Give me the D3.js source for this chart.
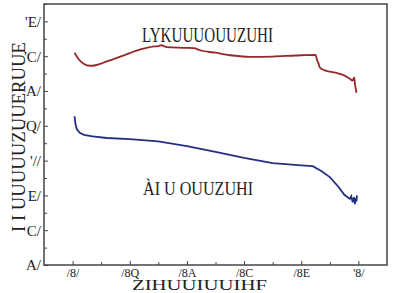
<!DOCTYPE html>
<html>
<head>
<meta charset="utf-8">
<script src="https://cdn.jsdelivr.net/npm/d3@7"></script>
<style>
  body { margin: 0; background: #fff; }
  text { font-family: "Liberation Serif", "DejaVu Serif", serif; fill: #222; }
</style>
</head>
<body>
<div id="chart"></div>
<script>
// tick labels as printed in the figure (glyph-mangled font)
const yTickValues = [40, 60, 80, 100, 120, 140, 160, 180]
const yTickLabels = ["A/", "C/", "E/", "'//", "'Q/", "'A/", "'C/", "'E/"]
const xTickValues = [0, 0.2, 0.4, 0.6, 0.8, 1.0]
const xTickLabels = ["/8/", "/8Q", "/8A", "/8C", "/8E", "'8/"]

// upper trace
const upperX = [0.007, 0.02, 0.04, 0.06, 0.08, 0.12, 0.18, 0.24, 0.28, 0.30, 0.31, 0.33, 0.40, 0.43, 0.44, 0.50, 0.56, 0.62, 0.70, 0.78, 0.85, 0.855, 0.86, 0.865, 0.88, 0.92, 0.95, 0.97, 0.98, 0.985, 0.988, 0.993]
const upperY = [162, 158.5, 155.5, 154.5, 154.8, 157, 160.5, 164, 165.5, 165.8, 166.3, 165.2, 164.8, 164.5, 163.7, 162, 160.4, 159.6, 159.8, 160.4, 160.8, 158, 156, 153.5, 152, 150.5, 149, 147, 146, 147.8, 144, 139]

// lower trace
const lowerX = [0.007, 0.01, 0.015, 0.025, 0.04, 0.07, 0.12, 0.2, 0.3, 0.4, 0.5, 0.6, 0.7, 0.8, 0.84, 0.87, 0.9, 0.93, 0.95, 0.97, 0.975, 0.98, 0.985, 0.988, 0.99, 0.993, 0.995]
const lowerY = [125.5, 121, 118, 116, 114.8, 113.9, 113, 112.4, 111, 108.3, 105, 101.5, 98.5, 97.3, 96.8, 94, 90.5, 85, 80.5, 78, 79.5, 76, 79, 75, 78.5, 76.5, 80]

const upperLabel = "LYKUUUOUUZUHI"
const lowerLabel = "ÀI U OUUZUHI"
const xTitle = "ZIHUUIUUIHF"
const yTitle = "I I UUUUUZUUERUUE"

const width = 393, height = 293
const margin = {top: 4, right: 6, bottom: 28, left: 44}

const svg = d3.select("#chart").append("svg")
    .attr("width", width)
    .attr("height", height)

let x = d3.scaleLinear().domain([-0.1, 1.1]).range([margin.left, width - margin.right])
let y = d3.scaleLinear().domain([40, 190]).range([height - margin.bottom, margin.top])

// axes (ticks pointing inward)
let xAxis = d3.axisBottom(x).tickValues(xTickValues)
    .tickFormat((d, i) => xTickLabels[i]).tickSizeInner(-4).tickSizeOuter(0).tickPadding(3)
let yAxis = d3.axisLeft(y).tickValues(yTickValues)
    .tickFormat((d, i) => yTickLabels[i]).tickSizeInner(-4).tickSizeOuter(0).tickPadding(3)

let gx = svg.append("g").attr("transform", `translate(0,${height - margin.bottom})`).call(xAxis)
let gy = svg.append("g").attr("transform", `translate(${margin.left},0)`).call(yAxis)

// minor ticks
let xMinor = d3.axisBottom(x).tickValues(xTickValues.slice(0, -1).map(v => v + 0.1))
    .tickFormat("").tickSizeInner(-3).tickSizeOuter(0)
let yMinor = d3.axisLeft(y).tickValues(yTickValues.map(v => v + 10))
    .tickFormat("").tickSizeInner(-3).tickSizeOuter(0)
svg.append("g").attr("transform", `translate(0,${height - margin.bottom})`).call(xMinor)
svg.append("g").attr("transform", `translate(${margin.left},0)`).call(yMinor)

svg.selectAll(".domain").remove()
svg.selectAll(".tick line").attr("stroke", "#444").attr("stroke-width", 1)
gx.selectAll("text").style("font-size", "12px").attr("fill", "#222")
gy.selectAll("text").style("font-size", "15px").attr("fill", "#222")

// frame
svg.append("rect")
    .attr("x", margin.left).attr("y", margin.top)
    .attr("width", width - margin.left - margin.right)
    .attr("height", height - margin.top - margin.bottom)
    .attr("fill", "none").attr("stroke", "#444").attr("stroke-width", 1.5)

let line = d3.line().x(d => x(d[0])).y(d => y(d[1])).curve(d3.curveMonotoneX)

svg.append("path")
    .datum(d3.zip(upperX, upperY))
    .attr("d", line)
    .attr("fill", "none").attr("stroke", "#962828").attr("stroke-width", 1.8)

svg.append("path")
    .datum(d3.zip(lowerX, lowerY))
    .attr("d", d3.line().x(d => x(d[0])).y(d => y(d[1])))
    .attr("fill", "none").attr("stroke", "#22307f").attr("stroke-width", 1.8)

// in-plot labels
svg.append("text").attr("x", 142).attr("y", 42)
    .attr("textLength", 131).attr("lengthAdjust", "spacingAndGlyphs")
    .style("font-size", "20px").text(upperLabel)
svg.append("text").attr("x", 143).attr("y", 195)
    .attr("textLength", 110).attr("lengthAdjust", "spacingAndGlyphs")
    .style("font-size", "18px").text(lowerLabel)

// axis titles
svg.append("text").attr("x", 132).attr("y", 290)
    .attr("textLength", 135).attr("lengthAdjust", "spacingAndGlyphs")
    .style("font-size", "14px").text(xTitle)
svg.append("text")
    .attr("transform", "translate(25,232) rotate(-90)")
    .attr("textLength", 190).attr("lengthAdjust", "spacingAndGlyphs")
    .style("font-size", "19px").text(yTitle)
</script>
</body>
</html>
